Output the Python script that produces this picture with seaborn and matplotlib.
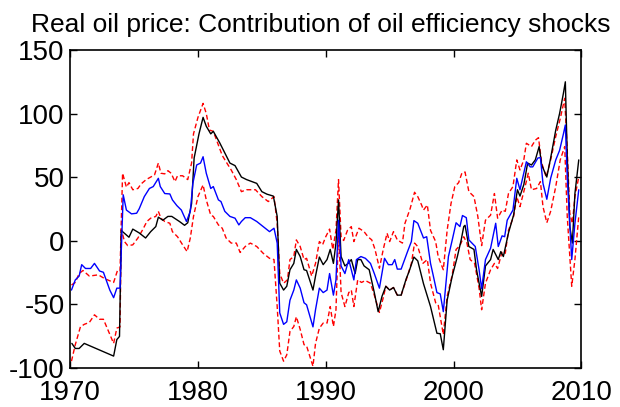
import matplotlib
matplotlib.use("Agg")
import matplotlib.pyplot as plt
import seaborn as sns
import pandas as pd

# ---- data ----
actual_year = [1970.13, 1970.4, 1970.7, 1971.1, 1973.4, 1973.65, 1973.86, 1974.0, 1974.1, 1974.6,
               1974.9, 1975.4, 1975.9, 1976.3, 1976.7, 1976.9, 1977.25, 1977.65, 1977.95, 1978.55,
               1978.95, 1979.2, 1979.5, 1979.7, 1980.08, 1980.4, 1980.65, 1981.0, 1981.2, 1981.7,
               1982.1, 1982.5, 1982.9, 1983.4, 1983.8, 1984.6, 1985.0, 1985.4, 1985.9, 1986.2,
               1986.4, 1986.7, 1986.95, 1987.2, 1987.5, 1987.7, 1988.0, 1988.3, 1988.5, 1989.0,
               1989.2, 1989.5, 1989.8, 1990.1, 1990.35, 1990.6, 1990.8, 1991.0, 1991.2, 1991.5,
               1991.75, 1992.0, 1992.3, 1992.5, 1992.75, 1993.0, 1993.4, 1993.8, 1994.1, 1994.4,
               1994.7, 1995.0, 1995.3, 1995.6, 1995.9, 1996.3, 1996.5, 1996.9, 1997.2, 1997.65,
               1998.2, 1998.7, 1998.96, 1999.2, 1999.5, 1999.9, 2000.3, 2000.6, 2000.8, 2000.9,
               2001.2, 2001.6, 2001.8, 2002.2, 2002.5, 2002.9, 2003.1, 2003.5, 2003.7, 2003.9,
               2004.3, 2004.7, 2005.0, 2005.2, 2005.5, 2005.8, 2006.1, 2006.4, 2006.7, 2006.9,
               2007.3, 2007.6, 2008.0, 2008.3, 2008.6, 2008.75, 2008.9, 2009.1, 2009.3, 2009.5,
               2009.8]
actual_value = [-81, -85, -85, -81, -91, -78, -75.5, 8, 7, 2.6,
                9, 6, 2, 7, 11, 18.4, 16, 19, 19, 15,
                12, 14, 29, 65, 84, 97, 90, 84, 86, 77,
                69, 61, 59, 50, 48, 45, 38.5, 36.5, 35, 19,
                -33.6, -39, -36, -23, -18, -7, -12.6, -23, -23.6, -39,
                -28, -13, -19, -15, -7, -18, -2, 32, -12.6, -20,
                -18, -15, -26, -15, -15, -20, -23, -41, -56, -44,
                -36, -39, -37, -43, -43, -30, -25, -13, -16, -34,
                -52, -73, -73.4, -86, -47, -28, -12.6, 0.5, 11, 12,
                -4.7, -7, -23, -44, -20, -15, -7, -15, -8.7, -12.6,
                6, 20, 40, 35, 44, 61, 59.5, 63.5, 74, 59.5,
                50, 65, 87, 100, 116, 125, 66, 11, -2, 37,
                63.5]

median_year = [1970.1, 1970.4, 1970.7, 1970.9, 1971.2, 1971.6, 1971.9, 1972.3, 1972.6, 1973.1,
               1973.4, 1973.65, 1973.9, 1974.15, 1974.4, 1974.8, 1975.2, 1975.4, 1975.8, 1976.2,
               1976.5, 1976.9, 1977.05, 1977.4, 1977.8, 1978.0, 1978.35, 1978.7, 1979.1, 1979.4,
               1979.6, 1979.9, 1980.2, 1980.4, 1980.65, 1981.0, 1981.2, 1981.6, 1981.8, 1982.1,
               1982.5, 1982.9, 1983.2, 1983.4, 1983.7, 1984.1, 1984.6, 1985.1, 1985.6, 1985.95,
               1986.2, 1986.4, 1986.7, 1986.95, 1987.2, 1987.5, 1987.7, 1988.0, 1988.3, 1988.5,
               1989.0, 1989.2, 1989.5, 1989.8, 1990.1, 1990.3, 1990.6, 1990.8, 1991.0, 1991.2,
               1991.5, 1991.8, 1992.2, 1992.4, 1992.75, 1993.1, 1993.5, 1993.8, 1994.2, 1994.6,
               1994.9, 1995.2, 1995.4, 1995.6, 1995.9, 1996.4, 1996.7, 1996.9, 1997.2, 1997.65,
               1997.9, 1998.2, 1998.4, 1998.7, 1998.96, 1999.2, 1999.6, 1999.9, 2000.2, 2000.5,
               2000.7, 2001.0, 2001.2, 2001.7, 2002.0, 2002.2, 2002.5, 2002.9, 2003.3, 2003.5,
               2003.8, 2004.0, 2004.2, 2004.65, 2004.95, 2005.2, 2005.7, 2006.0, 2006.2, 2006.6,
               2006.8, 2007.0, 2007.3, 2007.6, 2008.0, 2008.3, 2008.6, 2008.75, 2008.9, 2009.25,
               2009.5, 2009.8]
median_value = [-39, -31, -28, -19, -22, -22, -18, -24, -25, -39,
                -45, -37.5, -37.5, 36, 24, 21, 21.5, 25, 34.6, 41,
                42.5, 49, 42.5, 37, 36.7, 32, 27.5, 24, 15, 23,
                45, 59.5, 61, 66, 53, 41, 42.5, 32, 30.7, 23,
                19, 17.6, 12.3, 15, 18, 18, 15, 11, 7, 9.7,
                -2, -57, -66, -64, -47, -39, -31, -37.5, -49, -50.6,
                -68, -54.5, -37.5, -41, -39, -26, -43, -31, 16, -20,
                -26, -15, -31, -15, -12.6, -14, -18, -26, -37.5, -14,
                -19, -19, -15, -22.5, -22.5, -8.7, -0.8, 15.7, 13.6, 2,
                3, -18, -27, -41, -42, -56, -12.6, 0.5, 14, 11,
                19.7, 18, 0.5, -4.7, -23, -38, -15, -6, 13.6, -4.7,
                3.7, 3, 16, 24, 49, 40, 62, 58, 58, 65,
                65.3, 45, 32.5, 49, 63.5, 71, 84, 91, 50, -15,
                13.6, 40]

upper_year = [1970.1, 1970.4, 1970.7, 1971.0, 1971.5, 1972.2, 1972.7, 1973.4, 1973.7, 1973.9,
              1974.1, 1974.4, 1974.6, 1974.9, 1975.3, 1975.55, 1975.95, 1976.3, 1976.6, 1976.9,
              1977.1, 1977.4, 1977.65, 1977.9, 1978.2, 1978.4, 1978.8, 1979.2, 1979.5, 1979.65,
              1980.0, 1980.4, 1980.65, 1980.9, 1981.2, 1981.6, 1981.9, 1982.2, 1982.6, 1983.0,
              1983.4, 1983.8, 1984.5, 1985.0, 1985.5, 1985.95, 1986.2, 1986.4, 1986.7, 1987.0,
              1987.2, 1987.5, 1987.7, 1988.0, 1988.3, 1988.5, 1988.9, 1989.2, 1989.5, 1989.75,
              1990.0, 1990.3, 1990.55, 1990.8, 1991.0, 1991.2, 1991.4, 1991.7, 1992.0, 1992.2,
              1992.6, 1993.0, 1993.3, 1993.6, 1993.85, 1994.2, 1994.5, 1994.8, 1995.0, 1995.3,
              1995.6, 1996.0, 1996.2, 1996.6, 1996.95, 1997.2, 1997.5, 1997.65, 1997.95, 1998.2,
              1998.6, 1998.8, 1999.2, 1999.5, 1999.8, 2000.1, 2000.4, 2000.65, 2000.9, 2001.2,
              2001.6, 2001.9, 2002.2, 2002.5, 2002.9, 2003.2, 2003.45, 2003.8, 2004.05, 2004.3,
              2004.65, 2004.95, 2005.2, 2005.5, 2005.7, 2006.1, 2006.4, 2006.65, 2006.9, 2007.25,
              2007.6, 2008.0, 2008.35, 2008.7, 2008.9, 2009.1, 2009.3, 2009.5, 2009.8]
upper_value = [-35, -33, -26, -23.6, -28, -27, -30, -33, -23.6, -24,
               53, 42, 45.6, 40, 41, 44.6, 48, 50, 51.7, 61,
               53, 52.5, 55, 53, 46.4, 51, 51, 48, 61, 84,
               97, 108, 100, 87, 86, 75, 67, 62, 55.6, 48,
               38.5, 40, 40, 34.6, 30.7, 34.6, 13.6, -26, -33.6, -31,
               -15, -12.6, 0.5, -4.7, -15, -14, -28, -18, -0.8, -3.4,
               3, 9, -7, 8, 48, 3, 0, 8, 11, -0.8,
               9.7, 7, 3, 0.5, -6.8, -21.8, -7, 5.8, -0.8, 7,
               0.5, -2, 13.6, 25, 38, 34.6, 28, 24, 28, 8,
               -0.8, -12.6, -23, 8, 29, 42.5, 45.6, 53, 54, 38.5,
               34.6, 19, -4, 16, 20, 37, 17.6, 24, 23, 37,
               42.5, 63.5, 55.6, 63.5, 76.6, 74, 79, 81, 61, 50,
               63.5, 82, 96, 112, 71, 21.5, 13.6, 34.6, 50]

lower_year = [1970.1, 1970.4, 1970.8, 1971.1, 1971.5, 1971.9, 1972.3, 1972.6, 1973.1, 1973.4,
              1973.65, 1973.9, 1974.0, 1974.25, 1974.5, 1974.9, 1975.3, 1975.7, 1976.0, 1976.3,
              1976.7, 1976.9, 1977.1, 1977.4, 1977.8, 1978.0, 1978.4, 1978.8, 1979.15, 1979.4,
              1979.65, 1980.0, 1980.4, 1980.65, 1981.0, 1981.2, 1981.6, 1981.9, 1982.2, 1982.6,
              1983.0, 1983.3, 1983.7, 1984.1, 1984.6, 1985.1, 1985.6, 1985.95, 1986.2, 1986.4,
              1986.7, 1986.95, 1987.2, 1987.5, 1987.7, 1988.0, 1988.3, 1988.5, 1989.0, 1989.2,
              1989.5, 1989.8, 1990.1, 1990.35, 1990.6, 1990.8, 1991.0, 1991.2, 1991.5, 1991.8,
              1992.0, 1992.2, 1992.5, 1992.8, 1993.1, 1993.5, 1993.8, 1994.2, 1994.5, 1994.7,
              1995.0, 1995.3, 1995.6, 1995.9, 1996.3, 1996.7, 1996.95, 1997.2, 1997.6, 1997.95,
              1998.2, 1998.6, 1998.8, 1999.2, 1999.5, 1999.9, 2000.2, 2000.5, 2000.8, 2001.05,
              2001.3, 2001.65, 2002.0, 2002.2, 2002.5, 2002.9, 2003.2, 2003.45, 2003.8, 2004.05,
              2004.3, 2004.7, 2004.95, 2005.2, 2005.6, 2005.85, 2006.1, 2006.5, 2006.8, 2007.0,
              2007.3, 2007.6, 2008.0, 2008.35, 2008.7, 2008.9, 2009.25, 2009.5, 2009.8]
lower_value = [-95, -82, -68, -66, -64.5, -58.5, -62, -62, -74, -81,
               -69, -68, 9, -0.8, -4, -3.4, 2, 9, 15, 17.6,
               19, 23, 17.6, 15, 13.6, 7, 3, -3.4, -8.7, 2,
               19, 34.6, 43.8, 32, 20, 19, 12.3, 9.7, 2, -2,
               -2, -9.4, -4.7, -2, -4.7, -10, -14, -15, -52, -87,
               -95, -90, -71.6, -67.7, -60, -70, -82, -83, -99, -81,
               -69, -65, -65, -52, -67.7, -54.5, 8, -41, -52, -41,
               -39, -52, -31, -33, -31.5, -33.6, -43, -56.6, -45, -36,
               -39, -37, -43, -43, -31, -18, -2, -4.7, -18, -15,
               -33.6, -49, -50.6, -74, -44, -27, -7, -4, 3, -2,
               -15, -18, -37.5, -54.5, -33.6, -23, -18, -22, -8.7, -10,
               8, 19, 34.6, 26.7, 42.5, 53, 40, 41, 46.4, 26.7,
               14, 23, 42.5, 63.5, 74, 19, -36, -15, 19]

title_text = "Real oil price: Contribution of oil efficiency shocks"
x_ticks = [1970, 1980, 1990, 2000, 2010]
y_ticks = [-100, -50, 0, 50, 100, 150]

# ---- style ----
sns.set_style("ticks")
plt.rcParams["font.family"] = ["Liberation Sans", "DejaVu Sans"]
plt.rcParams["axes.unicode_minus"] = False
plt.rcParams["text.color"] = "black"
plt.rcParams["xtick.color"] = "black"
plt.rcParams["ytick.color"] = "black"
plt.rcParams["xtick.labelcolor"] = "black"
plt.rcParams["ytick.labelcolor"] = "black"

fig = plt.figure(figsize=(6.2, 4.07), dpi=100)
ax = fig.add_axes([0.1132, 0.097, 0.8244, 0.78])

sns.lineplot(x=upper_year, y=upper_value, ax=ax, color="#ff0000", lw=1.0,
             linestyle=(0, (3.5, 2)), estimator=None, sort=False)
sns.lineplot(x=lower_year, y=lower_value, ax=ax, color="#ff0000", lw=1.0,
             linestyle=(0, (3.5, 2)), estimator=None, sort=False)
sns.lineplot(x=actual_year, y=actual_value, ax=ax, color="#000000", lw=1.0,
             estimator=None, sort=False)
sns.lineplot(x=median_year, y=median_value, ax=ax, color="#0000ff", lw=1.0,
             estimator=None, sort=False)

ax.set_xlim(1970, 2010)
ax.set_ylim(-100, 150)
ax.set_xticks(x_ticks)
ax.set_yticks(y_ticks)
ax.set_xlabel("")
ax.set_ylabel("")
ax.tick_params(direction="in", length=5, width=1, top=True, right=True,
               labelsize=20, colors="black", labelcolor="black")
ax.tick_params(axis="x", pad=9)
ax.tick_params(axis="y", pad=4)
for s in ax.spines.values():
    s.set_linewidth(1.2)
    s.set_color("black")
ax.set_title(title_text, fontsize=19, pad=13, color="black", x=0.49)

fig.savefig("out.png", dpi=100)
